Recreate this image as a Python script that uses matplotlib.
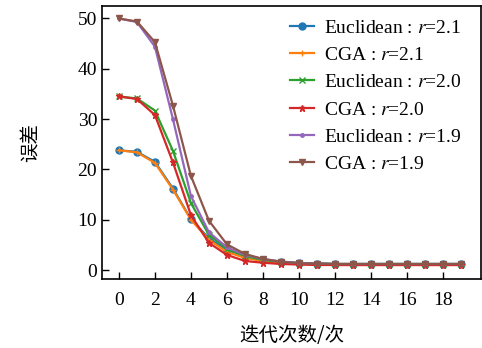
import matplotlib
matplotlib.use('Agg')
import matplotlib.pyplot as plt

# 데이터
iters = list(range(20))
euc_21 = [23.8, 23.5, 21.5, 16.2, 10.1, 6.3, 4.0, 2.8, 2.0, 1.6, 1.4, 1.3, 1.2, 1.2, 1.2, 1.2, 1.2, 1.2, 1.2, 1.2]
cga_21 = [23.8, 23.4, 21.3, 16.0, 10.0, 6.0, 3.6, 2.4, 1.8, 1.4, 1.2, 1.1, 1.0, 1.0, 1.0, 1.0, 1.0, 1.0, 1.0, 1.0]
euc_20 = [34.5, 34.1, 31.7, 23.7, 13.3, 7.0, 4.2, 2.8, 2.0, 1.6, 1.4, 1.3, 1.2, 1.2, 1.2, 1.2, 1.2, 1.2, 1.2, 1.2]
cga_20 = [34.5, 34.0, 30.8, 21.4, 10.9, 5.4, 3.0, 1.8, 1.45, 1.2, 1.1, 1.0, 1.0, 1.0, 1.0, 1.0, 1.0, 1.0, 1.0, 1.0]
euc_19 = [50.0, 49.3, 44.4, 30.0, 14.7, 7.5, 4.5, 3.0, 2.2, 1.7, 1.4, 1.3, 1.2, 1.2, 1.2, 1.2, 1.2, 1.2, 1.2, 1.2]
cga_19 = [50.0, 49.4, 45.3, 32.7, 18.7, 9.8, 5.1, 3.2, 2.2, 1.65, 1.35, 1.25, 1.2, 1.2, 1.2, 1.2, 1.2, 1.2, 1.2, 1.2]

series = [
    (euc_21, 'o', 'Euclidean : $r$=2.1'),
    (cga_21, '+', 'CGA : $r$=2.1'),
    (euc_20, 'x', 'Euclidean : $r$=2.0'),
    (cga_20, '*', 'CGA : $r$=2.0'),
    (euc_19, '.', 'Euclidean : $r$=1.9'),
    (cga_19, 'v', 'CGA : $r$=1.9'),
]

plt.rcParams['font.family'] = ['Liberation Serif', 'Noto Sans CJK SC']
plt.rcParams['mathtext.fontset'] = 'stix'

fig = plt.figure(figsize=(4.82, 3.48), dpi=100)
ax = fig.add_axes([0.2116, 0.198, 0.786, 0.785])

for vals, mk, lab in series:
    ax.plot(iters, vals, marker=mk, markersize=5, linewidth=1.6, label=lab)

ax.set_xlim(-0.94, 20.1)
ax.set_ylim(-1.8, 52.5)
ax.set_xticks(range(0, 20, 2))
ax.set_yticks(range(0, 51, 10))
ax.tick_params(direction='in', labelsize=14, length=5, width=1)
ax.tick_params(axis='x', pad=9)
for s in ax.spines.values():
    s.set_linewidth(1.2)

ax.set_xlabel('迭代次数/次', fontsize=14, family=['Noto Sans CJK SC'], labelpad=12)
ax.set_ylabel('误差', fontsize=14, family=['Noto Sans CJK SC'], labelpad=26)

ax.legend(loc='upper right', fontsize=14, frameon=False, handlelength=1.2,
          handletextpad=0.5, labelspacing=0.5, borderaxespad=0.2,
          bbox_to_anchor=(0.978, 0.995))

fig.savefig('out.png', dpi=100)
